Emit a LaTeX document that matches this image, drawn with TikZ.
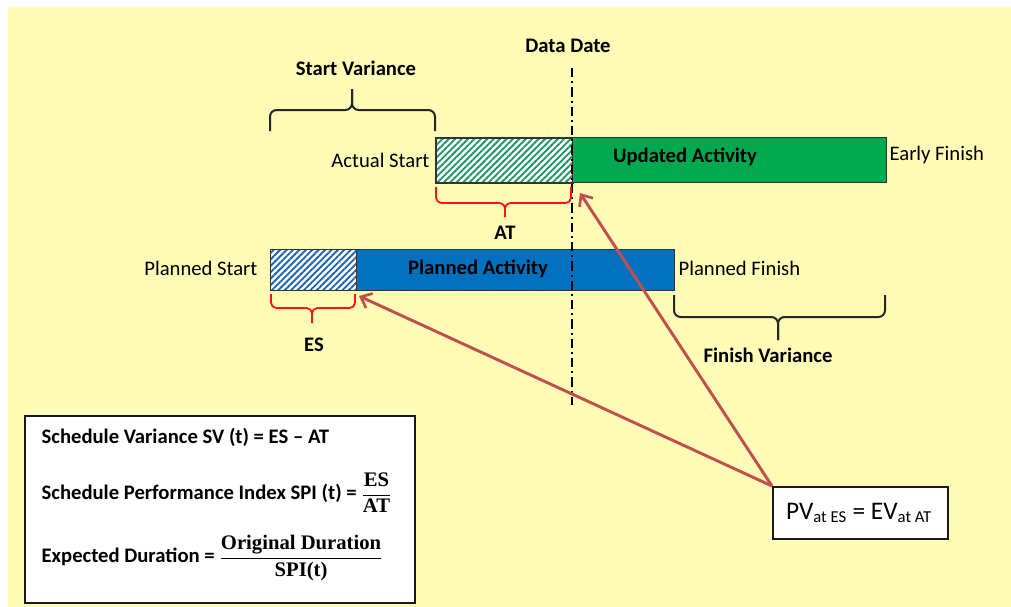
\documentclass[tikz,border=0pt]{standalone}
\usepackage{fontspec}
\setmainfont{Carlito}
\newfontfamily\cambria{Liberation Serif}
\usetikzlibrary{patterns.meta,arrows.meta}
\definecolor{bgyellow}{RGB}{253,251,182}
\definecolor{actgreen}{RGB}{0,168,80}
\definecolor{hatchgreen}{RGB}{30,150,100}
\definecolor{actblue}{RGB}{0,112,192}
\definecolor{hatchblue}{RGB}{30,100,180}
\definecolor{arrowred}{RGB}{192,80,77}
\definecolor{bracered}{RGB}{255,20,20}
\newcommand{\fr}[1]{\hbox{\cambria\bfseries\fontsize{15.5}{17}\selectfont #1}}
\tikzset{
  lbl/.style={font=\fontsize{15.5}{18}\selectfont, inner sep=1pt},
  blbl/.style={font=\fontsize{15.5}{18}\selectfont\bfseries, inner sep=1pt},
  bar/.style={draw=black!80, line width=0.9pt},
  hatchg/.style={bar, pattern={Lines[angle=45,distance=3.4pt,line width=1.4pt]}, pattern color=hatchgreen},
  hatchb/.style={bar, pattern={Lines[angle=45,distance=3.4pt,line width=1.4pt]}, pattern color=hatchblue},
  blackbrace/.style={draw=black!85, line width=1.5pt, rounded corners=5pt},
  redbrace/.style={draw=bracered, line width=1.3pt, rounded corners=4pt},
  pointer/.style={draw=arrowred, line width=2.2pt, -{Straight Barb[length=7pt,width=12pt,line width=2pt]}},
  infobox/.style={draw=black!90, line width=1.5pt, fill=white},
  dashdot/.style={line width=1.5pt, dash pattern=on 7pt off 3pt on 1.5pt off 3pt},
}
\begin{document}
\begin{tikzpicture}[x=0.75pt,y=-0.75pt]
\useasboundingbox (0,0) rectangle (1011,607);
\fill[white] (0,0) rectangle (1011,607);
\fill[bgyellow] (8,7) rectangle (1011,607);

% data date
\node[blbl] (dd) at (568,46) {Data Date};
\coordinate (ddtop) at (572,68);
\coordinate (ddbot) at (572,405);

% updated activity
\fill[white] (435,137) rectangle (572,182);
\node[hatchg, minimum width=137*0.75pt, minimum height=45*0.75pt, inner sep=0pt, anchor=north west] (ah) at (435,137) {};
\node[bar, fill=actgreen, minimum width=314*0.75pt, minimum height=45*0.75pt, inner sep=0pt, anchor=north west] (ua) at (572,137) {};
\node[blbl] (ualbl) at (685,157) {Updated Activity};
\node[lbl, anchor=east] (as) at (431,160) {Actual Start};
\node[lbl, anchor=west] (ef) at (888,155) {Early Finish};

% planned activity
\fill[white] (270,249) rectangle (356,290);
\node[hatchb, minimum width=86*0.75pt, minimum height=41*0.75pt, inner sep=0pt, anchor=north west] (ph) at (270,249) {};
\node[bar, fill=actblue, minimum width=318*0.75pt, minimum height=41*0.75pt, inner sep=0pt, anchor=north west] (pa) at (356,249) {};
\node[blbl] (palbl) at (478,269) {Planned Activity};
\node[lbl, anchor=east] (ps) at (259,268) {Planned Start};
\node[lbl, anchor=west] (pf) at (677,268) {Planned Finish};

% data date line over bars
\draw[dashdot] (ddtop) -- (ddbot);

% start variance brace
\draw[blackbrace] (270,131) -- (270,110) -- (352,110) -- (352,89);
\draw[blackbrace] (352,89) -- (352,110) -- (435,110) -- (435,131);
\node[blbl] (sv) at (356,68) {Start Variance};

% finish variance brace
\draw[blackbrace] (674,295) -- (674,317) -- (778,317) -- (778,340);
\draw[blackbrace] (778,340) -- (778,317) -- (885,317) -- (885,295);
\node[blbl] (fv) at (768,355) {Finish Variance};

% AT brace
\draw[redbrace] (436,187) -- (436,203) -- (505,203) -- (505,217);
\draw[redbrace] (505,217) -- (505,203) -- (571,203) -- (571,187);
\node[blbl] (at) at (505,233) {AT};

% ES brace
\draw[redbrace] (271,294) -- (271,308) -- (312,308) -- (312,323);
\draw[redbrace] (312,323) -- (312,308) -- (355,308) -- (355,294);
\node[blbl] (es) at (314,345) {ES};

% formula box
\node[infobox, minimum width=390*0.75pt, minimum height=187*0.75pt, inner sep=0pt, anchor=north west] (fbox) at (24,415) {};
\node[blbl, anchor=west] (f1) at (40,437) {Schedule Variance SV (t) = ES -- AT};
\node[blbl, anchor=west] (f2) at (40,493) {Schedule Performance Index SPI (t) = $\displaystyle\frac{\fr{ES}}{\fr{AT}}$};
\node[blbl, anchor=west] (f3) at (40,558) {Expected Duration = $\displaystyle\frac{\fr{Original Duration}}{\fr{SPI(t)}}$};

% PV box
\node[infobox, minimum width=175*0.75pt, minimum height=52*0.75pt, inner sep=0pt, anchor=north west] (pv) at (772,486) {};
\node[font=\fontsize{19}{21}\selectfont] (pvt) at (859,513) {PV\textsubscript{\fontsize{12.5}{13}\selectfont at ES} = EV\textsubscript{\fontsize{12.5}{13}\selectfont at AT}};

% pointers
\coordinate (tgtes) at (359,296);
\coordinate (tgtat) at (580,193);
\draw[pointer] (pv.north west) -- (tgtes);
\draw[pointer] (pv.north west) -- (tgtat);
\end{tikzpicture}
\end{document}
